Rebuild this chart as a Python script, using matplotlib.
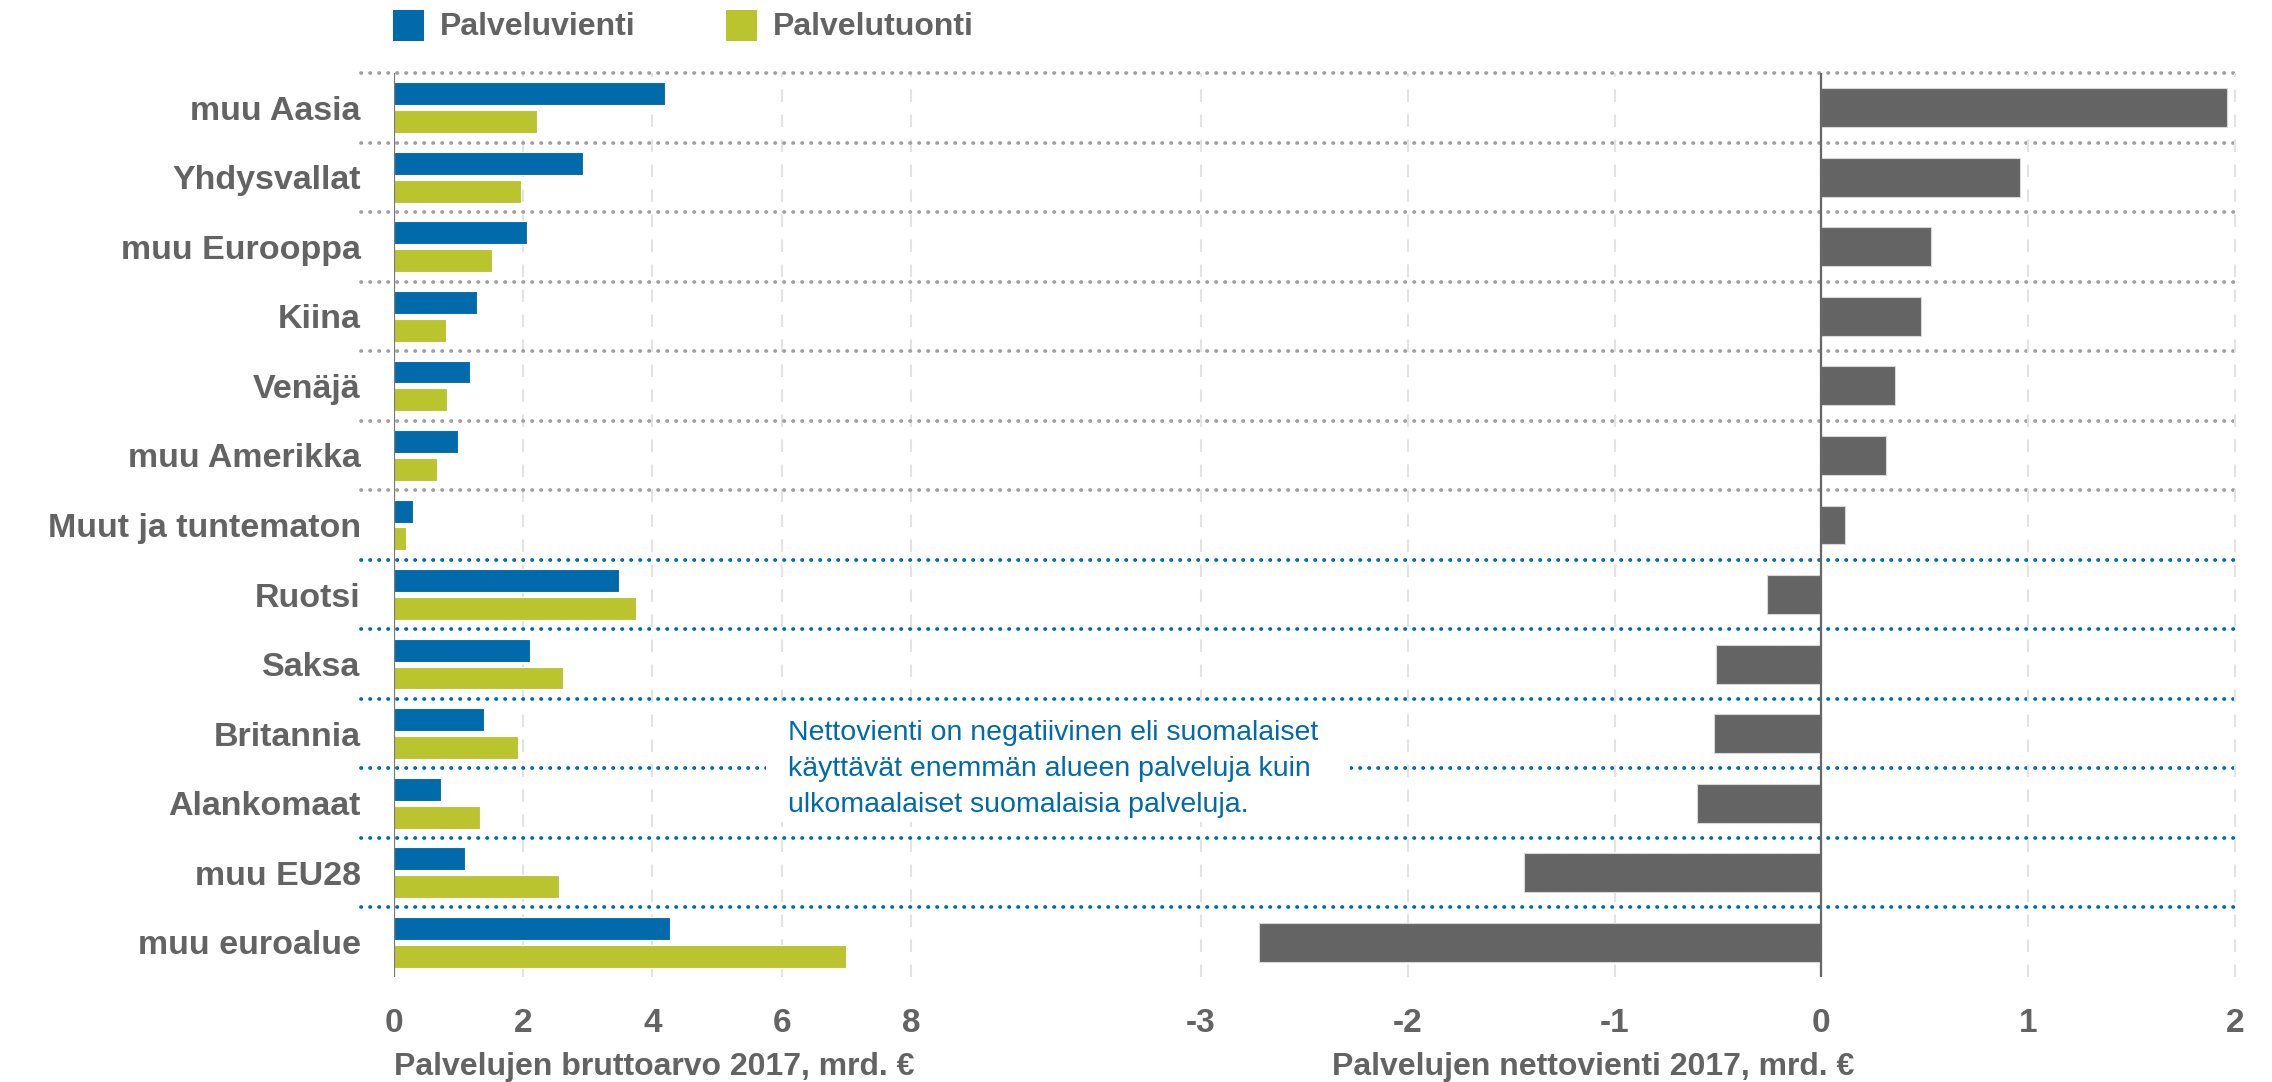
import matplotlib
matplotlib.use("Agg")
import matplotlib.pyplot as plt
from matplotlib.patches import Rectangle
from matplotlib.transforms import blended_transform_factory

plt.rcParams.update({
    'font.family': ['Liberation Sans', 'DejaVu Sans'],
    'axes.unicode_minus': False,
})

# data (mrd. €, 2017)
regions = ['muu Aasia', 'Yhdysvallat', 'muu Eurooppa', 'Kiina', 'Venäjä',
           'muu Amerikka', 'Muut ja tuntematon', 'Ruotsi', 'Saksa',
           'Britannia', 'Alankomaat', 'muu EU28', 'muu euroalue']
vienti = [4.19, 2.93, 2.06, 1.28, 1.18, 0.99, 0.30, 3.49, 2.10, 1.40, 0.73, 1.10, 4.27]
tuonti = [2.22, 1.96, 1.52, 0.81, 0.82, 0.67, 0.19, 3.75, 2.62, 1.92, 1.33, 2.55, 7.00]
netto = [1.96, 0.96, 0.53, 0.48, 0.355, 0.31, 0.115, -0.265, -0.51, -0.52, -0.60, -1.44, -2.72]
n_non_eu = 7  # first 7 rows outside EU
left_ticks = [0, 2, 4, 6, 8]
right_ticks = [-3, -2, -1, 0, 1, 2]
series_names = ['Palveluvienti', 'Palvelutuonti']

BLUE = '#006AAB'
GREEN = '#B9C42F'
DARK = '#646464'
TXT = '#636363'

W, H = 2272, 1082
fig = plt.figure(figsize=(W / 100, H / 100), dpi=100)

def fx(px):
    return px / W

def fy(py):
    return 1 - py / H

top, bottom = fy(73), fy(977)
ax1 = fig.add_axes([fx(394), bottom, fx(550), top - bottom])
ax2 = fig.add_axes([fx(1180), bottom, fx(1060), top - bottom])

y = list(range(len(regions)))
ax1.barh([i - 0.2 for i in y], vienti, height=0.33, color=BLUE, edgecolor='white', linewidth=0.8, zorder=3)
ax1.barh([i + 0.2 for i in y], tuonti, height=0.33, color=GREEN, edgecolor='white', linewidth=0.8, zorder=3)
ax2.barh(y, netto, height=0.56, color=DARK, edgecolor='#d8d8d8', linewidth=0.8, zorder=3)

ax1.set_xlim(0, 550 / 64.6)
ax2.set_xlim(-3 - 21 / 207, 2 + 5 / 207)
for ax in (ax1, ax2):
    ax.set_ylim(len(regions) - 0.5, -0.5)
    for s in ax.spines.values():
        s.set_visible(False)
    ax.tick_params(axis='x', length=0, pad=22, labelsize=24, labelcolor=TXT)
    ax.grid(axis='x', color='#e3e3e3', linestyle=(0, (6, 6)), linewidth=1.5, zorder=0)
    ax.set_facecolor('none')

ax1.set_xticks(left_ticks)
ax2.set_xticks(right_ticks)
for ax in (ax1, ax2):
    for lbl in ax.get_xticklabels():
        lbl.set_fontweight('bold')

ax1.set_yticks(y)
ax1.set_yticklabels(regions, fontsize=24.5, fontweight='bold', color=TXT)
ax1.tick_params(axis='y', length=0, pad=24)
ax2.set_yticks([])

ax1.axvline(0, color='#777777', linewidth=1.6, zorder=4)
ax2.axvline(0, color='#666666', linewidth=1.6, zorder=4)

# dotted row separators across both panels
tr = blended_transform_factory(fig.transFigure, ax1.transData)
for k in range(len(regions)):
    yy = k - 0.5
    col = '#a0a0a0' if k <= n_non_eu - 1 else BLUE
    ax1.plot([fx(361), fx(2239)], [yy, yy], transform=tr, color=col,
             linewidth=2.7, linestyle=(0, (0.1, 2.3)), dash_capstyle='round',
             clip_on=False, zorder=2)

# annotation box
fig.add_artist(Rectangle((fx(766), fy(822)), fx(1350) - fx(766), fy(712) - fy(822),
                         transform=fig.transFigure, facecolor='white', edgecolor='none', zorder=5))
fig.text(fx(788), fy(769),
         'Nettovienti on negatiivinen eli suomalaiset\n'
         'käyttävät enemmän alueen palveluja kuin\n'
         'ulkomaalaiset suomalaisia palveluja.',
         fontsize=20.5, color=BLUE, ha='left', va='center',
         linespacing=1.5, zorder=6)

# legend
for x0, name, col in zip([393, 726], series_names, [BLUE, GREEN]):
    fig.add_artist(Rectangle((fx(x0), fy(41)), fx(31), fy(10) - fy(41),
                             transform=fig.transFigure, facecolor=col, edgecolor='none'))
    fig.text(fx(x0 + 47), fy(27), name, fontweight='bold',
             fontsize=23, color=TXT, ha='left', va='center')

# axis titles
fig.text(fx(394), fy(1067), 'Palvelujen bruttoarvo 2017, mrd. €',
         fontweight='bold', fontsize=23, color=TXT, ha='left', va='center')
fig.text(fx(1332), fy(1067), 'Palvelujen nettovienti 2017, mrd. €',
         fontweight='bold', fontsize=23, color=TXT, ha='left', va='center')

fig.savefig('out.png', dpi=100, facecolor='white')
